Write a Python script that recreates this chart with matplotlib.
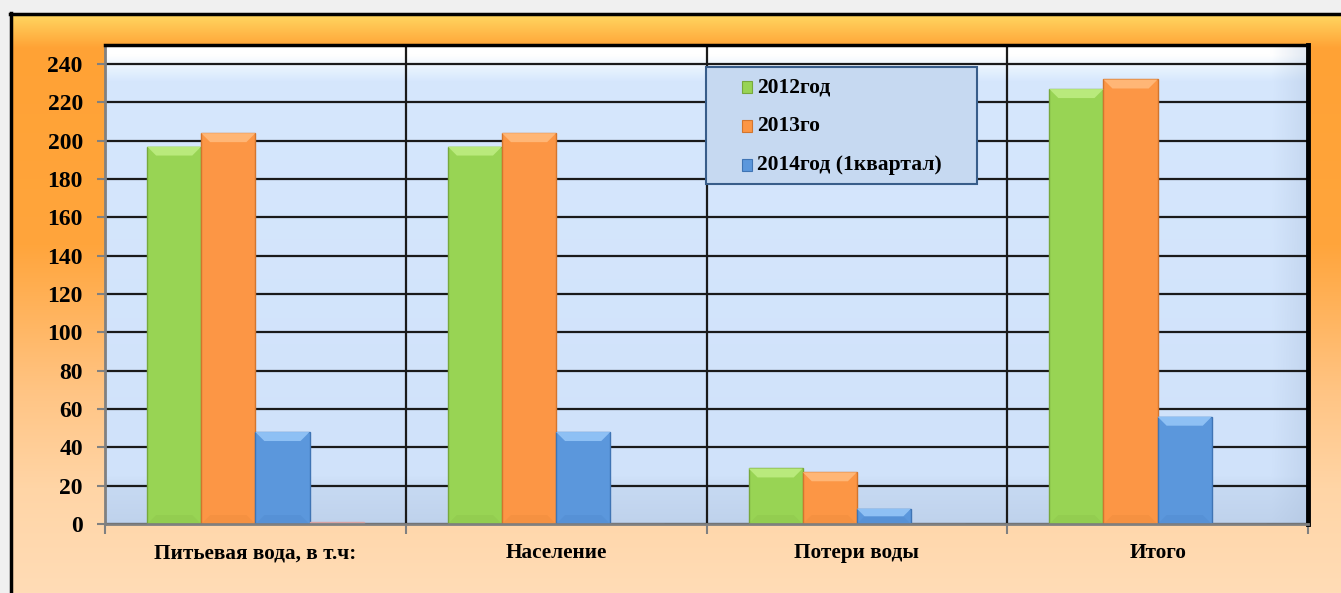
import numpy as np
import matplotlib.pyplot as plt
from matplotlib.colors import to_rgb
from matplotlib.patches import Rectangle, Polygon

categories = ['Питьевая вода, в т.ч:', 'Население', 'Потери воды', 'Итого']
series_names = ['2012год', '2013го', '2014год (1квартал)']
values_2012 = [197, 197, 29, 227]
values_2013 = [204, 204, 27, 232]
values_2014 = [48, 48, 8, 56]
values_extra = [1, 0, 0, 0]  # faint 4th series, only a sliver in the first group
y_ticks = list(range(0, 241, 20))

colors = ['#98d454', '#fc9645', '#5b97dc', '#e8bcbc']
edges = ['#77a83c', '#d2752e', '#3f74b4', '#d9a3a3']
tops = ['#b9ea7c', '#ffb676', '#8ec0f4', '#f3d6d6']

W, H = 1341, 593
plt.rcParams['font.family'] = ['Liberation Serif', 'DejaVu Serif']
plt.rcParams['font.weight'] = 'bold'


def vgrad(stops, n):
    ys = np.linspace(0, 1, n)
    pos = [s[0] for s in stops]
    cols = np.array([to_rgb(s[1]) for s in stops])
    return np.stack([np.interp(ys, pos, cols[:, i]) for i in range(3)], axis=1)


fig = plt.figure(figsize=(W / 100, H / 100), dpi=100)

# orange frame behind everything
bg = fig.add_axes([0, 0, 1, 1])
bg.set_xlim(0, W)
bg.set_ylim(H, 0)
bg.axis('off')
img = np.ones((H, W, 3)) * np.array(to_rgb('#f0f0f0'))
frame = vgrad([(0, '#ffd862'), (0.03, '#ffbd4c'), (0.06, '#ffa235'),
               (0.4, '#ffa53c'), (0.65, '#ffc483'), (0.82, '#ffd5a6'),
               (1, '#ffdcb6')], H - 13)
img[13:, 10:, :] = frame[:, None, :]
bg.imshow(img, extent=[0, W, H, 0], aspect='auto')
bg.plot([11, 11], [13, H], color='black', lw=2.5)
bg.plot([10, W], [14, 14], color='black', lw=2.5)

# plot area
L, R, T, B = 105, 1308, 45, 524
ax = fig.add_axes([L / W, (H - B) / H, (R - L) / W, (B - T) / H])
ax.set_xlim(0, 4)
ax.set_ylim(0, 250)

pw, ph = R - L, B - T
wall = vgrad([(0, '#ffffff'), (0.02, '#ffffff'), (0.05, '#e6f2fe'),
              (0.075, '#d6e7fd'), (0.9, '#d0e2fa'), (0.93, '#c6d9f2'),
              (1, '#bfd2ec')], ph)
wall_img = np.repeat(wall[:, None, :], pw, axis=1)
hx = np.linspace(0, 1, pw)
shade = np.clip((hx - 0.97) / 0.03, 0, 1)[None, :, None]
wall_img = wall_img * (1 - 0.35 * shade) + np.array(to_rgb('#a9bdd9')) * 0.35 * shade
ax.imshow(wall_img, extent=[0, 4, 0, 250], aspect='auto', zorder=0)

ax.set_yticks(y_ticks)
ax.yaxis.grid(True, color='#1a1a1a', lw=1.6)
ax.set_axisbelow(True)
for xv in [1, 2, 3]:
    ax.axvline(xv, color='#1a1a1a', lw=1.6, zorder=0.6)

x = np.arange(len(categories))
bw = 0.18
px_x = 4 / pw
px_y = 250 / ph
all_vals = [values_2012, values_2013, values_2014, values_extra]
for k, vals in enumerate(all_vals):
    bars = ax.bar(x + 0.23 + bw * k, vals, width=bw, color=colors[k],
                  edgecolor=edges[k], lw=1, zorder=2)
    for r in bars:
        h = r.get_height()
        if h <= 2:
            continue
        x0, x1 = r.get_x(), r.get_x() + r.get_width()
        d = min(9, h / px_y / 2)
        ax.add_patch(Polygon([(x0, h), (x1, h), (x1 - d * px_x, h - d * px_y),
                              (x0 + d * px_x, h - d * px_y)],
                             closed=True, color=tops[k], lw=0, zorder=3))
        ax.add_patch(Polygon([(x0, 0), (x1, 0), (x1 - d * px_x, d * px_y),
                              (x0 + d * px_x, d * px_y)],
                             closed=True, color=edges[k], alpha=0.15, lw=0, zorder=3))

for side in ['left', 'bottom']:
    ax.spines[side].set_color('#808080')
    ax.spines[side].set_linewidth(2)
ax.spines['top'].set_color('black')
ax.spines['top'].set_linewidth(2.5)
ax.spines['right'].set_color('black')
ax.spines['right'].set_linewidth(3.5)

ax.tick_params(axis='y', direction='out', length=6, width=1.5, color='#808080',
               labelsize=17, pad=10)
ax.set_xticks([0, 1, 2, 3, 4])
ax.set_xticklabels([])
ax.tick_params(axis='x', which='major', direction='out', length=7, width=1.5,
               color='#808080')
ax.set_xticks(x + 0.5, minor=True)
ax.set_xticklabels(categories, minor=True)
ax.tick_params(axis='x', which='minor', length=0, labelsize=15.3, pad=14)
for lab in ax.get_yticklabels() + ax.get_xticklabels(minor=True):
    lab.set_fontweight('bold')


# legend box
def ax_x(px):
    return (px - L) / pw


def ax_y(py):
    return (B - py) / ph


ax.add_patch(Rectangle((ax_x(706), ax_y(184)), ax_x(977) - ax_x(706),
                       ax_y(67) - ax_y(184), transform=ax.transAxes,
                       facecolor='#c6d9f1', edgecolor='#385d8a', lw=1.5,
                       zorder=5))
for k, (name, ty) in enumerate(zip(series_names, [87, 126, 165])):
    ax.add_patch(Rectangle((ax_x(742), ax_y(ty + 5.5)), ax_x(752) - ax_x(742),
                           ax_y(ty - 5.5) - ax_y(ty + 5.5), transform=ax.transAxes,
                           facecolor=colors[k], edgecolor=edges[k], lw=0.8,
                           zorder=6))
    ax.text(ax_x(757), ax_y(ty), name, transform=ax.transAxes, fontsize=15.5,
            fontweight='bold', va='center', ha='left', zorder=6)

fig.savefig('out.png', dpi=100)
